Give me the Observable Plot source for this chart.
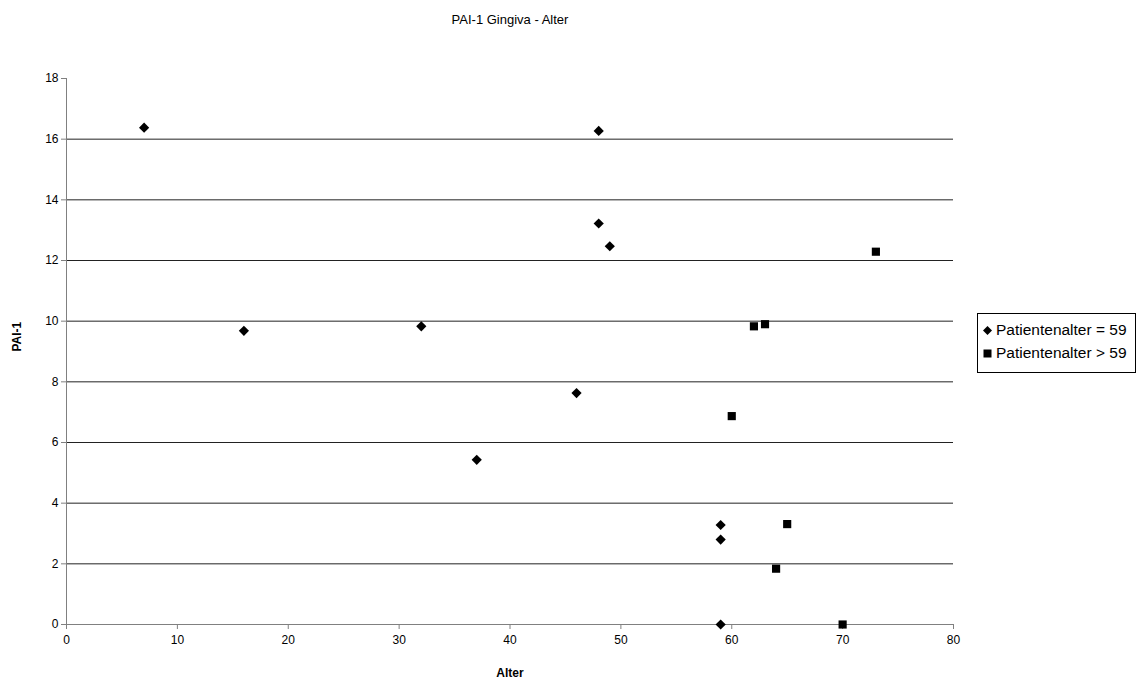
<!DOCTYPE html>
<html>
<head>
<meta charset="utf-8">
<script src="https://cdn.jsdelivr.net/npm/d3@7"></script>
<script src="https://cdn.jsdelivr.net/npm/@observablehq/plot@0.6"></script>
<style>
  html, body { margin: 0; padding: 0; background: #fff; }
  #wrap { position: relative; width: 1141px; height: 684px; font-family: "Liberation Sans", Arial, sans-serif; }
  #legend { position: absolute; left: 977px; top: 313px; width: 157px; height: 58px; border: 1px solid #000; background: #fff; font-size: 15.5px; color: #000; }
  .row { position: absolute; left: 5px; display: flex; align-items: center; height: 18px; }
  .row svg { margin-right: 4px; }
</style>
</head>
<body>
<div id="wrap"></div>
<script>
const groupA = "Patientenalter = 59";
const groupB = "Patientenalter > 59";

const ageA = [7, 16, 32, 37, 46, 48, 48, 49, 59, 59, 59];
const paiA = [16.38, 9.68, 9.83, 5.43, 7.63, 16.27, 13.22, 12.47, 3.28, 2.8, 0];

const ageB = [60, 62, 63, 64, 65, 70, 73];
const paiB = [6.87, 9.83, 9.9, 1.84, 3.31, 0, 12.29];

const xTicks = [0, 10, 20, 30, 40, 50, 60, 70, 80];
const yTicks = [0, 2, 4, 6, 8, 10, 12, 14, 16, 18];

const dataA = ageA.map((a, i) => ({age: a, pai: paiA[i]}));
const dataB = ageB.map((a, i) => ({age: a, pai: paiB[i]}));

const chart = Plot.plot({
  width: 1141,
  height: 684,
  marginLeft: 66,
  marginRight: 188,
  marginTop: 78,
  marginBottom: 60,
  style: {fontFamily: "'Liberation Sans', Arial, sans-serif", fontSize: "12px", color: "#000", background: "#fff"},
  x: {domain: [0, 80]},
  y: {domain: [0, 18]},
  marks: [
    Plot.ruleY(yTicks.filter(d => d > 0 && d < 18), {stroke: "#222", strokeWidth: 1}),
    Plot.ruleX([0], {stroke: "#808080", strokeWidth: 1}),
    Plot.ruleY([0], {stroke: "#808080", strokeWidth: 1}),
    Plot.axisY({ticks: yTicks, tickSize: 5, tickPadding: 3, stroke: "#808080", label: null, fontSize: 12}),
    Plot.axisX({ticks: xTicks, tickSize: 5, tickPadding: 6, stroke: "#808080", label: null, fontSize: 12}),
    Plot.dot(dataA, {x: "age", y: "pai", symbol: "diamond2", r: 4.6, fill: "#000", stroke: "none"}),
    Plot.dot(dataB, {x: "age", y: "pai", symbol: "square", r: 4.6, fill: "#000", stroke: "none"}),
    Plot.text(["PAI-1 Gingiva - Alter"], {frameAnchor: "top", lineAnchor: "middle", dy: -59, fontSize: 13, fill: "#000"}),
    Plot.text(["Alter"], {frameAnchor: "bottom", lineAnchor: "middle", dy: 49, fontSize: 12, fontWeight: "bold", fill: "#000"}),
    Plot.text(["PAI-1"], {frameAnchor: "left", dx: -49, rotate: -90, fontSize: 12, fontWeight: "bold", fill: "#000"})
  ]
});
document.getElementById("wrap").appendChild(chart);

const legend = document.createElement("div");
legend.id = "legend";
legend.innerHTML =
  `<div class="row" style="top:7px"><svg width="9" height="9" viewBox="-4.5 -4.5 9 9"><path d="M0,-4.5L4.5,0L0,4.5L-4.5,0Z" fill="#000"/></svg><span>${groupA}</span></div>` +
  `<div class="row" style="top:30px"><svg width="9" height="9" viewBox="0 0 9 9"><rect x="0.5" y="0.5" width="8" height="8" fill="#000"/></svg><span>${groupB}</span></div>`;
document.getElementById("wrap").appendChild(legend);
</script>
</body>
</html>
